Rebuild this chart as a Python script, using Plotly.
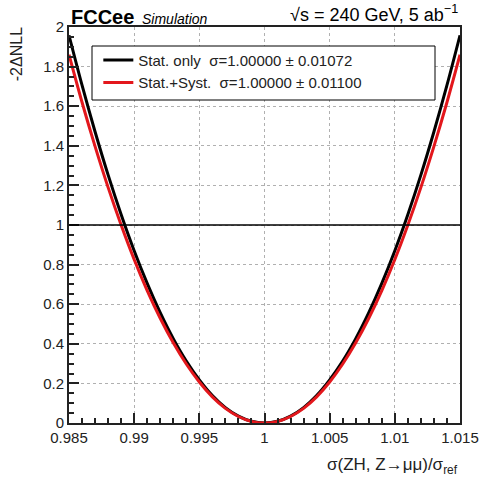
import plotly.graph_objects as go

# scan points
x_vals = [0.985, 0.986, 0.987, 0.988, 0.989, 0.990, 0.991, 0.992, 0.993, 0.994,
          0.995, 0.996, 0.997, 0.998, 0.999, 1.000, 1.001, 1.002, 1.003, 1.004,
          1.005, 1.006, 1.007, 1.008, 1.009, 1.010, 1.011, 1.012, 1.013, 1.014, 1.015]
stat_only = [1.958, 1.706, 1.471, 1.253, 1.053, 0.870, 0.705, 0.557, 0.426, 0.313,
             0.218, 0.139, 0.078, 0.035, 0.009, 0.000, 0.009, 0.035, 0.078, 0.139,
             0.218, 0.313, 0.426, 0.557, 0.705, 0.870, 1.053, 1.253, 1.471, 1.706, 1.958]
stat_syst = [1.860, 1.620, 1.397, 1.190, 1.000, 0.826, 0.669, 0.529, 0.405, 0.298,
             0.207, 0.132, 0.074, 0.033, 0.008, 0.000, 0.008, 0.033, 0.074, 0.132,
             0.207, 0.298, 0.405, 0.529, 0.669, 0.826, 1.000, 1.190, 1.397, 1.620, 1.860]
names = ["Stat. only  \u03c3=1.00000 \u00b1 0.01072",
         "Stat.+Syst.  \u03c3=1.00000 \u00b1 0.01100"]
x_ticks = [0.985, 0.99, 0.995, 1.0, 1.005, 1.01, 1.015]
x_ticklabels = ["0.985", "0.99", "0.995", "1", "1.005", "1.01", "1.015"]
y_ticks = [0, 0.2, 0.4, 0.6, 0.8, 1, 1.2, 1.4, 1.6, 1.8, 2]
y_ticklabels = ["0", "0.2", "0.4", "0.6", "0.8", "1", "1.2", "1.4", "1.6", "1.8", "2"]

FONT = "Liberation Sans, Arial, sans-serif"
RED = "#e3171c"

fig = go.Figure()
fig.add_trace(go.Scatter(x=x_vals, y=stat_only, mode="lines", name=names[0],
                         line=dict(color="black", width=3, shape="spline"),
                         cliponaxis=True))
fig.add_trace(go.Scatter(x=x_vals, y=stat_syst, mode="lines", name=names[1],
                         line=dict(color=RED, width=3, shape="spline"),
                         cliponaxis=True))

axis_common = dict(
    showline=True, linecolor="#222222", linewidth=2, mirror=True,
    ticks="inside", ticklen=10, tickwidth=1.5, tickcolor="#222222",
    showgrid=True, gridcolor="#b0b0b0", gridwidth=1, griddash="dot",
    zeroline=False,
    tickfont=dict(family=FONT, size=15, color="#222222"),
)

fig.update_layout(
    width=491, height=477,
    margin=dict(l=69, r=31, t=27, b=54),
    paper_bgcolor="white", plot_bgcolor="white",
    showlegend=True,
    legend=dict(x=0.075, y=0.958, xanchor="left", yanchor="top",
                bgcolor="rgba(0,0,0,0)", borderwidth=0,
                font=dict(family=FONT, size=15, color="#222222"),
                tracegroupgap=0, itemwidth=30),
    xaxis=dict(range=[0.985, 1.015], tickvals=x_ticks, ticktext=x_ticklabels,
               minor=dict(ticks="inside", ticklen=5, dtick=0.001, tickcolor="#222222",
                          showgrid=False),
               **axis_common),
    yaxis=dict(range=[0, 2], tickvals=y_ticks, ticktext=y_ticklabels,
               minor=dict(ticks="inside", ticklen=5, dtick=0.05, tickcolor="#222222",
                          showgrid=False),
               **axis_common),
    shapes=[
        dict(type="line", xref="paper", yref="y", x0=0, x1=1, y0=1, y1=1,
             line=dict(color="black", width=1.5), layer="above"),
        dict(type="rect", xref="paper", yref="paper",
             x0=(92 - 69) / 391, x1=(435 - 69) / 391,
             y0=(423 - 100) / 396, y1=(423 - 46) / 396,
             line=dict(color="black", width=1), fillcolor="white", layer="above"),
    ],
    annotations=[
        dict(text="<b>FCCee</b>", xref="paper", yref="paper", x=0.0, y=1.0,
             xanchor="left", yanchor="bottom", showarrow=False, yshift=-3,
             font=dict(family=FONT, size=20, color="black")),
        dict(text="<i>Simulation</i>", xref="paper", yref="paper", x=0.181, y=1.0,
             xanchor="left", yanchor="bottom", showarrow=False, yshift=-2,
             font=dict(family=FONT, size=14, color="black")),
        dict(text="\u221as = 240 GeV, 5 ab<sup>\u22121</sup>", xref="paper", yref="paper",
             x=1.0, y=1.0, xanchor="right", yanchor="bottom", showarrow=False,
             font=dict(family=FONT, size=18, color="black")),
        dict(text="\u03c3(ZH, Z\u2192\u03bc\u03bc)/\u03c3<sub>ref</sub>", xref="paper", yref="paper",
             x=1.0, y=-0.075, xanchor="right", yanchor="top", showarrow=False,
             font=dict(family=FONT, size=17, color="#222222")),
        dict(text="-2\u0394NLL", xref="paper", yref="paper", x=-0.135, y=1.005,
             xanchor="center", yanchor="top", showarrow=False, textangle=-90,
             font=dict(family=FONT, size=16, color="#222222")),
    ],
)

fig.write_html("out.html")
